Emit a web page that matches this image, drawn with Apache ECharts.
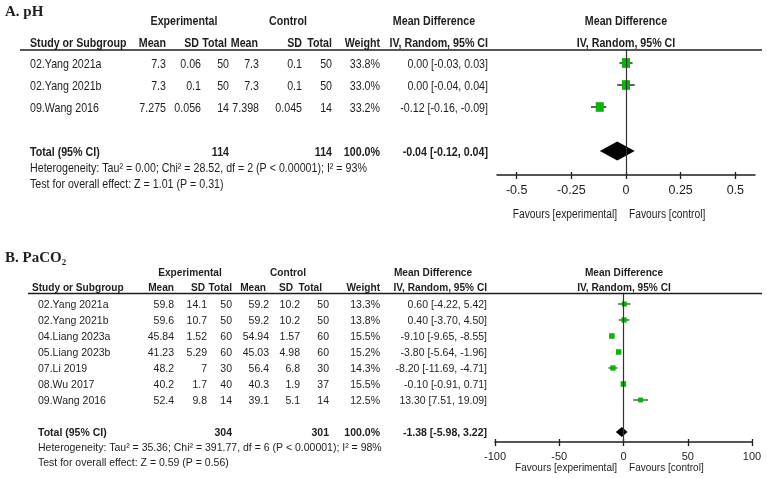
<!DOCTYPE html>
<html><head><meta charset="utf-8">
<script src="https://cdn.jsdelivr.net/npm/echarts@6/dist/echarts.min.js"></script>
<style>html,body{margin:0;padding:0;background:#fff}#c{width:767px;height:479px}</style>
</head><body><div id="c"></div>
<script>
// ---------- Panel A: pH ----------
const phStudies = ['02.Yang 2021a', '02.Yang 2021b', '09.Wang 2016'];
const phExpMean = ['7.3', '7.3', '7.275'];
const phExpSD = ['0.06', '0.1', '0.056'];
const phExpTotal = [50, 50, 14];
const phCtrlMean = ['7.3', '7.3', '7.398'];
const phCtrlSD = ['0.1', '0.1', '0.045'];
const phCtrlTotal = [50, 50, 14];
const phWeight = [33.8, 33.0, 33.2];
const phMD = [0.00, 0.00, -0.12];
const phLow = [-0.03, -0.04, -0.16];
const phHigh = [0.03, 0.04, -0.09];
const phPooled = [-0.04, -0.12, 0.04];
const phTotals = [114, 114];
const phHet = 'Heterogeneity: Tau² = 0.00; Chi² = 28.52, df = 2 (P < 0.00001); I² = 93%';
const phTest = 'Test for overall effect: Z = 1.01 (P = 0.31)';
const phTicks = [-0.5, -0.25, 0, 0.25, 0.5];

// ---------- Panel B: PaCO2 ----------
const pcStudies = ['02.Yang 2021a', '02.Yang 2021b', '04.Liang 2023a', '05.Liang 2023b', '07.Li 2019', '08.Wu 2017', '09.Wang 2016'];
const pcExpMean = ['59.8', '59.6', '45.84', '41.23', '48.2', '40.2', '52.4'];
const pcExpSD = ['14.1', '10.7', '1.52', '5.29', '7', '1.7', '9.8'];
const pcExpTotal = [50, 50, 60, 60, 30, 40, 14];
const pcCtrlMean = ['59.2', '59.2', '54.94', '45.03', '56.4', '40.3', '39.1'];
const pcCtrlSD = ['10.2', '10.2', '1.57', '4.98', '6.8', '1.9', '5.1'];
const pcCtrlTotal = [50, 50, 60, 60, 30, 37, 14];
const pcWeight = [13.3, 13.8, 15.5, 15.2, 14.3, 15.5, 12.5];
const pcMD = [0.60, 0.40, -9.10, -3.80, -8.20, -0.10, 13.30];
const pcLow = [-4.22, -3.70, -9.65, -5.64, -11.69, -0.91, 7.51];
const pcHigh = [5.42, 4.50, -8.55, -1.96, -4.71, 0.71, 19.09];
const pcPooled = [-1.38, -5.98, 3.22];
const pcTotals = [304, 301];
const pcHet = 'Heterogeneity: Tau² = 35.36; Chi² = 391.77, df = 6 (P < 0.00001); I² = 98%';
const pcTest = 'Test for overall effect: Z = 0.59 (P = 0.56)';
const pcTicks = [-100, -50, 0, 50, 100];

// ---------- build ----------
const GREEN = '#0cb30c';
const INK = '#1e1e1e';
const chart = echarts.init(document.getElementById('c'), null, {renderer: 'canvas'});

function ciText(m, l, h) { return m.toFixed(2) + ' [' + l.toFixed(2) + ', ' + h.toFixed(2) + ']'; }

function whiskers(xi, yi, low, high, lw) {
  return {
    type: 'custom', xAxisIndex: xi, yAxisIndex: yi, z: 2, silent: true,
    data: low.map((l, i) => [l, high[i], i]),
    encode: {x: [0, 1], y: 2},
    renderItem: (p, api) => {
      const a = api.coord([api.value(0), api.value(2)]);
      const b = api.coord([api.value(1), api.value(2)]);
      return {type: 'line', shape: {x1: a[0], y1: a[1], x2: b[0], y2: b[1]}, style: {stroke: INK, lineWidth: lw}};
    },
    markLine: {silent: true, symbol: ['none', 'none'], label: {show: false},
      lineStyle: {color: '#333', width: 1.2, type: 'solid'}, data: [{xAxis: 0}]}
  };
}
function squares(xi, yi, md, w, aspect) {
  return {
    type: 'scatter', xAxisIndex: xi, yAxisIndex: yi, z: 3, silent: true,
    symbol: 'rect', symbolSize: v => [1.4 * Math.sqrt(v[2]), 1.4 * Math.sqrt(v[2]) * aspect],
    itemStyle: {color: GREEN, opacity: 1},
    data: md.map((m, i) => [m, i, w[i]])
  };
}
function diamond(xi, yi, pooled, row, h) {
  return {
    type: 'custom', xAxisIndex: xi, yAxisIndex: yi, z: 4, silent: true,
    data: [[pooled[0], pooled[1], pooled[2], row]],
    encode: {x: [0, 1, 2], y: 3},
    renderItem: (p, api) => {
      const y = api.value(3);
      const c = api.coord([api.value(0), y]);
      const l = api.coord([api.value(1), y]);
      const r = api.coord([api.value(2), y]);
      return {type: 'polygon', shape: {points: [[l[0], c[1]], [c[0], c[1] - h], [r[0], c[1]], [c[0], c[1] + h]]},
        style: {fill: '#000'}};
    }
  };
}
function xAxes(gi, min, max, ticks, interval, fs, margin) {
  const common = {gridIndex: gi, type: 'value', min: min, max: max, position: 'bottom', splitLine: {show: false}};
  const tickCfg = interval ? {interval: interval} : {customValues: ticks};
  return [
    Object.assign({}, common, interval ? {interval: interval} : {}, {
      axisLine: {show: true, onZero: false, lineStyle: {color: INK, width: 1.5}},
      axisTick: Object.assign({show: true, inside: false, length: 4, lineStyle: {color: INK, width: 1.3}}, tickCfg),
      axisLabel: Object.assign({show: true, color: INK, fontSize: fs, fontFamily: '"Liberation Sans", Arial, sans-serif', margin: margin,
        formatter: v => String(v)}, interval ? {} : {customValues: ticks})
    }),
    Object.assign({}, common, interval ? {interval: interval} : {}, {
      axisLine: {show: false, onZero: false},
      axisTick: Object.assign({show: true, inside: true, length: 3, lineStyle: {color: INK, width: 1.3}}, tickCfg),
      axisLabel: {show: false}
    })
  ];
}

const nA = phStudies.length, nB = pcStudies.length;
const option = {
  animation: false,
  backgroundColor: '#fff',
  grid: [
    {left: 497, width: 258, top: 50, height: 125},
    {left: 495, width: 257, top: 293.5, height: 148.5}
  ],
  xAxis: [].concat(xAxes(0, -0.59, 0.59, phTicks, null, 12.5, 9), xAxes(1, -100, 100, pcTicks, 50, 11, 9)),
  yAxis: [
    {gridIndex: 0, type: 'value', inverse: true, min: -0.59, max: 5.09, show: false},
    {gridIndex: 1, type: 'value', inverse: true, min: -0.656, max: 8.625, show: false}
  ],
  series: [
    whiskers(0, 0, phLow, phHigh, 1.4),
    squares(0, 0, phMD, phWeight, 1.2),
    diamond(0, 0, phPooled, nA + 1, 9.5),
    whiskers(2, 1, pcLow, pcHigh, 1.1),
    squares(2, 1, pcMD, pcWeight, 1),
    diamond(2, 1, pcPooled, nB + 1, 5)
  ]
};
chart.setOption(option);

// ---------- table text ----------
const SANS = '"Liberation Sans", Arial, sans-serif';
const SERIF = '"Liberation Serif", "Times New Roman", serif';
function T(x, y, text, o) {
  o = o || {};
  return {type: 'text', x: x, y: y, scaleX: o.sx || 1, silent: true, z: 10,
    style: {text: text, fill: INK, font: (o.bold ? 'bold ' : '') + o.size + 'px ' + (o.fam || SANS),
      textAlign: o.align || 'left', textVerticalAlign: 'middle'}};
}
function L(x1, y, x2, w) {
  return {type: 'line', silent: true, z: 10, shape: {x1: x1, y1: y, x2: x2, y2: y}, style: {stroke: INK, lineWidth: w}};
}
const g = [];
function panel(cfg) {
  const rowY = i => chart.convertToPixel({gridIndex: cfg.grid}, [0, i])[1];
  const s = cfg.size, sx = cfg.sx, hsx = cfg.hsx;
  const R = (x, y, t, b, k) => g.push(T(x, y, t, {size: s, sx: k || sx, align: 'right', bold: b}));
  const Lt = (x, y, t, b, k) => g.push(T(x, y, t, {size: s, sx: k || sx, align: 'left', bold: b}));
  const C = (x, y, t, b, k) => g.push(T(x, y, t, {size: s, sx: k || sx, align: 'center', bold: b}));
  const c = cfg.cols, h = cfg.head;
  g.push(T(5, cfg.titleY, cfg.title, {size: 15, bold: true, fam: SERIF}));
  C(h.expC, cfg.groupY, 'Experimental', true, hsx);
  C(h.ctrlC, cfg.groupY, 'Control', true, hsx);
  C(h.mdC, cfg.groupY, 'Mean Difference', true, hsx);
  C(h.plotC, cfg.groupY, 'Mean Difference', true, hsx);
  const hy = cfg.headY;
  Lt(cfg.headX, hy, 'Study or Subgroup', true, hsx);
  R(h.em, hy, 'Mean', true, hsx); R(h.es, hy, 'SD', true, hsx); R(h.en, hy, 'Total', true, hsx);
  R(h.cm, hy, 'Mean', true, hsx); R(h.cs, hy, 'SD', true, hsx); R(h.cn, hy, 'Total', true, hsx);
  R(h.w, hy, 'Weight', true, hsx); R(h.ci, hy, 'IV, Random, 95% CI', true, hsx);
  C(h.plotC, hy, 'IV, Random, 95% CI', true, hsx);
  g.push(L(cfg.lineX, cfg.lineY, 762, 1.5));
  const d = cfg.data;
  d.studies.forEach((name, i) => {
    const y = rowY(i) + cfg.dy;
    Lt(cfg.rowX, y, name);
    R(c.em, y, d.em[i]); R(c.es, y, d.es[i]); R(c.en, y, String(d.en[i]));
    R(c.cm, y, d.cm[i]); R(c.cs, y, d.cs[i]); R(c.cn, y, String(d.cn[i]));
    R(c.w, y, d.w[i].toFixed(1) + '%');
    R(c.ci, y, ciText(d.md[i], d.lo[i], d.hi[i]));
  });
  const ty = rowY(d.studies.length + 1) + cfg.dy;
  Lt(cfg.rowX, ty, 'Total (95% CI)', true);
  R(c.en, ty, String(d.totals[0]), true);
  R(c.cn, ty, String(d.totals[1]), true);
  R(c.w, ty, '100.0%', true);
  R(c.ci, ty, ciText(d.pooled[0], d.pooled[1], d.pooled[2]), true);
  Lt(cfg.rowX, cfg.hetY, d.het);
  Lt(cfg.rowX, cfg.testY, d.test);
  g.push(T(617, cfg.favY, 'Favours [experimental]', {size: cfg.favSize, sx: sx, align: 'right'}));
  g.push(T(629, cfg.favY, 'Favours [control]', {size: cfg.favSize, sx: sx, align: 'left'}));
}
panel({
  grid: 0, size: 13, sx: 0.82, hsx: 0.82, title: 'A. pH', titleY: 12, groupY: 21, headY: 43, headX: 30, rowX: 30,
  lineX: 20, lineY: 50, dy: 1, hetY: 168, testY: 184, favY: 215, favSize: 12.5,
  head: {expC: 184, ctrlC: 288, mdC: 434, plotC: 626, em: 166, es: 199, en: 227, cm: 258, cs: 302, cn: 332, w: 380, ci: 488},
  cols: {em: 166, es: 201, en: 229, cm: 259, cs: 302, cn: 332, w: 380, ci: 488},
  data: {studies: phStudies, em: phExpMean, es: phExpSD, en: phExpTotal, cm: phCtrlMean, cs: phCtrlSD, cn: phCtrlTotal,
    w: phWeight, md: phMD, lo: phLow, hi: phHigh, pooled: phPooled, totals: phTotals, het: phHet, test: phTest}
});
panel({
  grid: 1, size: 11, sx: 0.955, hsx: 0.92, title: 'B. PaCO₂', titleY: 258, groupY: 273, headY: 288, headX: 32, rowX: 38,
  lineX: 28, lineY: 293.5, dy: 1, hetY: 448, testY: 463, favY: 468, favSize: 10.5,
  head: {expC: 190, ctrlC: 288, mdC: 433, plotC: 624, em: 174, es: 205, en: 232, cm: 266, cs: 293, cn: 322, w: 380, ci: 487},
  cols: {em: 174, es: 207, en: 232, cm: 269, cs: 300, cn: 329, w: 380, ci: 487},
  data: {studies: pcStudies, em: pcExpMean, es: pcExpSD, en: pcExpTotal, cm: pcCtrlMean, cs: pcCtrlSD, cn: pcCtrlTotal,
    w: pcWeight, md: pcMD, lo: pcLow, hi: pcHigh, pooled: pcPooled, totals: pcTotals, het: pcHet, test: pcTest}
});
chart.setOption({graphic: {elements: g}});
</script>
</body></html>
